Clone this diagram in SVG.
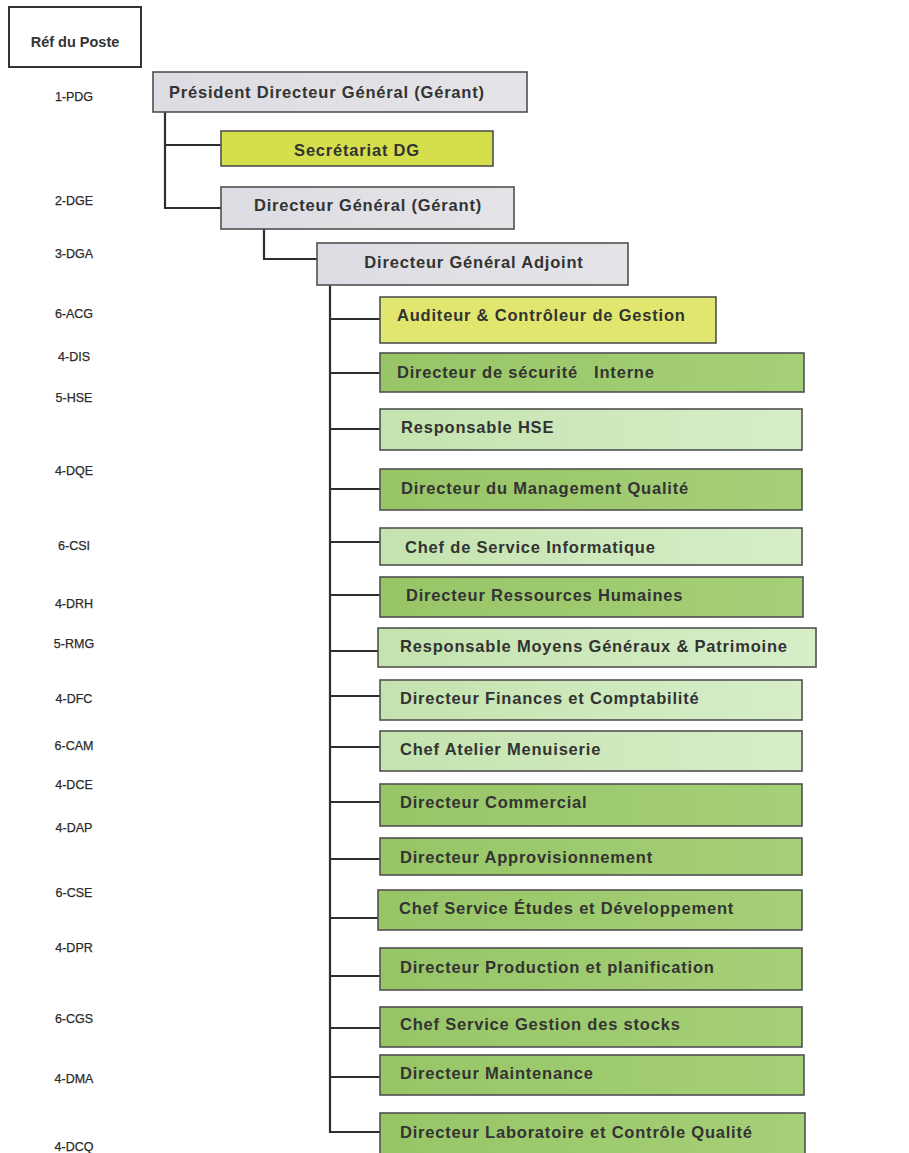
<svg xmlns="http://www.w3.org/2000/svg" width="909" height="1153" viewBox="0 0 909 1153">
  <defs>
    <linearGradient id="gMid" x1="0" y1="0" x2="1" y2="0">
      <stop offset="0" stop-color="#97c566"/>
      <stop offset="1" stop-color="#a6d078"/>
    </linearGradient>
    <linearGradient id="gLight" x1="0" y1="0" x2="1" y2="0">
      <stop offset="0" stop-color="#c4e3ae"/>
      <stop offset="1" stop-color="#d7eec9"/>
    </linearGradient>
    <linearGradient id="gGray" x1="0" y1="0" x2="1" y2="0">
      <stop offset="0" stop-color="#dcdce2"/>
      <stop offset="1" stop-color="#e4e4e8"/>
    </linearGradient>
    <style>
      .box { stroke: #505050; stroke-width: 1.6; }
      .gray { fill: url(#gGray); }
      .yel { fill: #d5df4c; }
      .yel2 { fill: #e1e76e; }
      .mid { fill: url(#gMid); }
      .light { fill: url(#gLight); }
      .t { font-family: "Liberation Sans", Arial, sans-serif; font-weight: bold; font-size: 16.5px; letter-spacing: 0.8px; fill: #333; }
      .c { text-anchor: middle; }
      .ref { font-family: "Liberation Sans", Arial, sans-serif; font-size: 12.5px; fill: #2a2a2a; text-anchor: middle; stroke: #2a2a2a; stroke-width: 0.25; }
      .conn { fill: none; stroke: #2e2e2e; stroke-width: 2.2; }
    </style>
  </defs>
  <rect width="909" height="1153" fill="#ffffff"/>

  <!-- reference header -->
  <g id="ref-header">
    <rect x="9" y="7" width="132" height="60" fill="#fff" stroke="#333" stroke-width="2"/>
    <text x="75" y="47" font-family="Liberation Sans, Arial, sans-serif" font-weight="bold" font-size="14.5" fill="#333" text-anchor="middle">Réf du Poste</text>
  </g>

  <!-- post reference codes -->
  <g id="ref-codes">
    <text class="ref" x="74" y="100.5">1-PDG</text>
    <text class="ref" x="74" y="204.5">2-DGE</text>
    <text class="ref" x="74" y="257.5">3-DGA</text>
    <text class="ref" x="74" y="317.5">6-ACG</text>
    <text class="ref" x="74" y="360.5">4-DIS</text>
    <text class="ref" x="74" y="401.5">5-HSE</text>
    <text class="ref" x="74" y="474.5">4-DQE</text>
    <text class="ref" x="74" y="549.5">6-CSI</text>
    <text class="ref" x="74" y="607.5">4-DRH</text>
    <text class="ref" x="74" y="647.5">5-RMG</text>
    <text class="ref" x="74" y="702.5">4-DFC</text>
    <text class="ref" x="74" y="749.5">6-CAM</text>
    <text class="ref" x="74" y="788.5">4-DCE</text>
    <text class="ref" x="74" y="831.5">4-DAP</text>
    <text class="ref" x="74" y="896.5">6-CSE</text>
    <text class="ref" x="74" y="951.5">4-DPR</text>
    <text class="ref" x="74" y="1022.5">6-CGS</text>
    <text class="ref" x="74" y="1082.5">4-DMA</text>
    <text class="ref" x="74" y="1150.5">4-DCQ</text>
  </g>

  <!-- connectors -->
  <g id="connectors" class="conn">
    <path d="M165 112 V208 H221 M165 145 H221"/>
    <path d="M264 229 V259 H317"/>
    <path d="M330 285 V1132 H380"/>
    <path d="M330 319 H380 M330 373 H380 M330 429 H380 M330 489 H380 M330 542 H380 M330 595 H380 M330 651 H378 M330 696 H380 M330 747 H380 M330 802 H380 M330 859 H380 M330 918 H378 M330 976 H380 M330 1028 H380 M330 1077 H380"/>
  </g>

  <!-- executive level -->
  <g id="pdg">
    <rect class="box gray" x="153" y="72" width="374" height="40"/>
    <text class="t" x="169" y="98">Président Directeur Général (Gérant)</text>
  </g>
  <g id="secretariat-dg">
    <rect class="box yel" x="221" y="131" width="272" height="35"/>
    <text class="t c" x="357" y="156">Secrétariat DG</text>
  </g>
  <g id="dge">
    <rect class="box gray" x="221" y="187" width="293" height="42"/>
    <text class="t c" x="368" y="211">Directeur Général (Gérant)</text>
  </g>
  <g id="dga">
    <rect class="box gray" x="317" y="243" width="311" height="42"/>
    <text class="t c" x="474" y="268">Directeur Général Adjoint</text>
  </g>

  <!-- departments under the DGA -->
  <g id="acg">
    <rect class="box yel2" x="380" y="297" width="336" height="46"/>
    <text class="t" x="397" y="321">Auditeur &amp; Contrôleur de Gestion</text>
  </g>
  <g id="dis">
    <rect class="box mid" x="380" y="353" width="424" height="39"/>
    <text class="t" x="397" y="378" xml:space="preserve">Directeur de sécurité   Interne</text>
  </g>
  <g id="hse">
    <rect class="box light" x="380" y="409" width="422" height="41"/>
    <text class="t" x="401" y="433">Responsable HSE</text>
  </g>
  <g id="dqe">
    <rect class="box mid" x="380" y="469" width="422" height="41"/>
    <text class="t" x="401" y="494">Directeur du Management Qualité</text>
  </g>
  <g id="csi">
    <rect class="box light" x="380" y="528" width="422" height="37"/>
    <text class="t" x="405" y="553">Chef de Service Informatique</text>
  </g>
  <g id="drh">
    <rect class="box mid" x="380" y="577" width="423" height="40"/>
    <text class="t" x="406" y="601">Directeur Ressources Humaines</text>
  </g>
  <g id="rmg">
    <rect class="box light" x="378" y="628" width="438" height="39"/>
    <text class="t" x="400" y="652">Responsable Moyens Généraux &amp; Patrimoine</text>
  </g>
  <g id="dfc">
    <rect class="box light" x="380" y="680" width="422" height="40"/>
    <text class="t" x="400" y="704">Directeur Finances et Comptabilité</text>
  </g>
  <g id="cam">
    <rect class="box light" x="380" y="731" width="422" height="40"/>
    <text class="t" x="400" y="755">Chef Atelier Menuiserie</text>
  </g>
  <g id="dce">
    <rect class="box mid" x="380" y="784" width="422" height="42"/>
    <text class="t" x="400" y="808">Directeur Commercial</text>
  </g>
  <g id="dap">
    <rect class="box mid" x="380" y="838" width="422" height="37"/>
    <text class="t" x="400" y="863">Directeur Approvisionnement</text>
  </g>
  <g id="cse">
    <rect class="box mid" x="378" y="890" width="424" height="40"/>
    <text class="t" x="399" y="914">Chef Service Études et Développement</text>
  </g>
  <g id="dpr">
    <rect class="box mid" x="380" y="948" width="422" height="42"/>
    <text class="t" x="400" y="973">Directeur Production et planification</text>
  </g>
  <g id="cgs">
    <rect class="box mid" x="380" y="1007" width="422" height="40"/>
    <text class="t" x="400" y="1030">Chef Service Gestion des stocks</text>
  </g>
  <g id="dma">
    <rect class="box mid" x="380" y="1055" width="424" height="40"/>
    <text class="t" x="400" y="1079">Directeur Maintenance</text>
  </g>
  <g id="dcq">
    <rect class="box mid" x="380" y="1113" width="425" height="50"/>
    <text class="t" x="400" y="1138">Directeur Laboratoire et Contrôle Qualité</text>
  </g>
</svg>
